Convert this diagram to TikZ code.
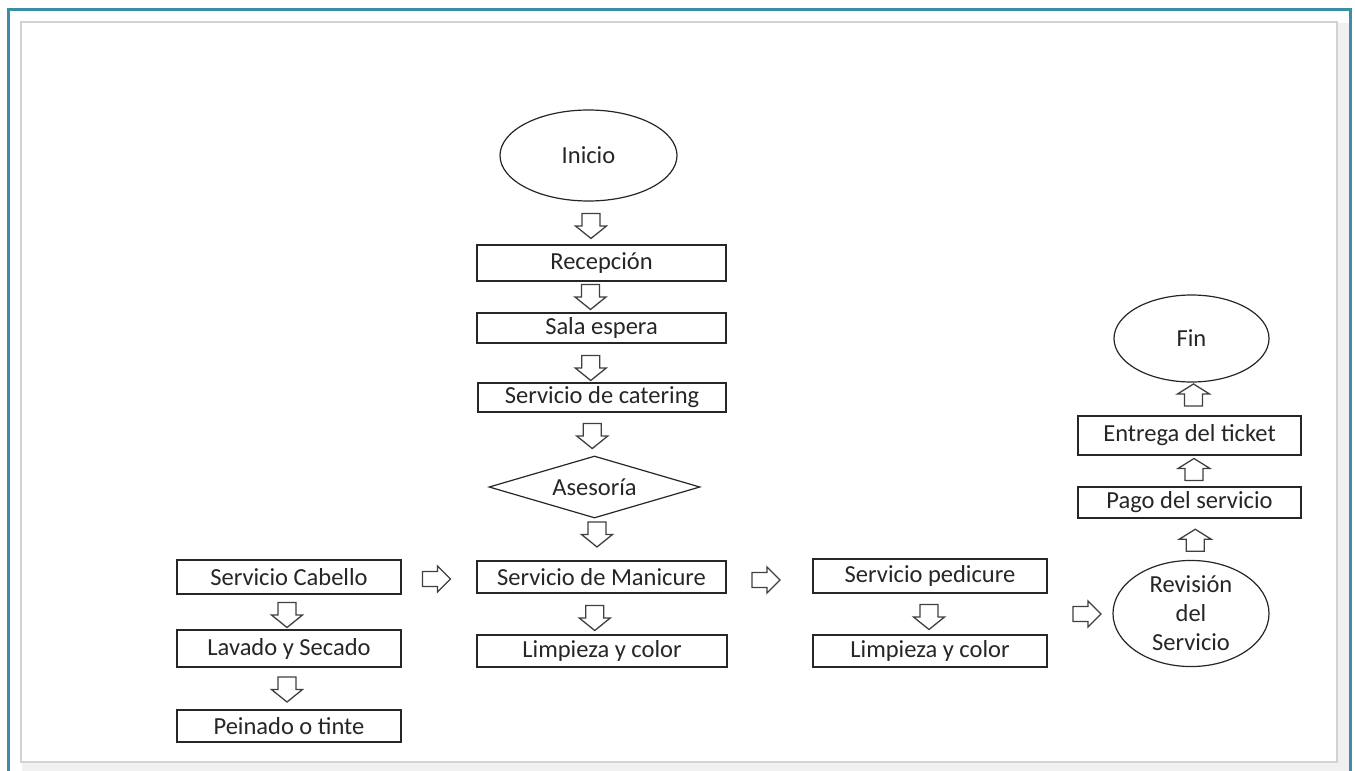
\documentclass[tikz,border=0pt]{standalone}
\usepackage{fontspec}
\setmainfont{Carlito}
\usetikzlibrary{shapes.geometric,calc}
\definecolor{frameteal}{HTML}{3A8FA5}
\definecolor{innergray}{HTML}{D2D2D2}
\definecolor{bggray}{HTML}{F0F0F0}
\definecolor{ink}{HTML}{262626}
\definecolor{arrink}{HTML}{404040}
\tikzset{
  box/.style={draw=ink, line width=1.3pt, rectangle, inner sep=0pt, text=ink,
    font=\fontsize{24.5}{29}\selectfont},
  oval/.style={draw=ink, line width=1.2pt, ellipse, inner sep=0pt, text=ink, align=center,
    font=\fontsize{24.5}{29}\selectfont},
  rhomb/.style={draw=ink, line width=1.2pt, diamond, aspect=3.4, inner sep=0pt, text=ink,
    font=\fontsize{24.5}{29}\selectfont},
  arrline/.style={draw=arrink, line width=1.3pt, fill=white, line join=miter},
  pics/darr/.style={code={\draw[arrline] (-9,-12.5) -- (9,-12.5) -- (9,0) -- (15.5,0) -- (0,12.5) -- (-15.5,0) -- (-9,0) -- cycle;}},
  pics/rarr/.style={code={\draw[arrline] (-14,-7.5) -- (1,-7.5) -- (1,-13) -- (14,0) -- (1,13) -- (1,7.5) -- (-14,7.5) -- cycle;}},
  pics/uarr/.style={code={\draw[arrline] (-9,11) -- (9,11) -- (9,-1) -- (16,-1) -- (0,-11) -- (-16,-1) -- (-9,-1) -- cycle;}},
}
\begin{document}
\begin{tikzpicture}[x=1pt,y=-1pt]
\useasboundingbox (0,0) rectangle (1355,771);
% frame
\fill[white] (0,0) rectangle (1355,771);
\fill[bggray] (22,23) rectangle (1350,771);
\fill[white] (21,22) rectangle (1337,762);
\draw[innergray, line width=1.5pt] (21,22) rectangle (1337,762);
\draw[frameteal, line width=2.2pt] (8.5,775) -- (8.5,9.5) -- (1350.5,9.5) -- (1350.5,775);

% main column
\node[oval, minimum width=177, minimum height=91] (inicio) at (588.5,155.5) {Inicio};
\node[box, minimum width=249, minimum height=36] (recep) at (601.5,263) {Recepción};
\node[box, minimum width=249, minimum height=30] (sala) at (601.5,328) {Sala espera};
\node[box, minimum width=248, minimum height=29] (cater) at (602,397.5) {Servicio de catering};
\node[rhomb, minimum width=211, minimum height=62] (ases) at (594.5,487) {Asesoría};
\node[box, minimum width=249, minimum height=32] (mani) at (601.5,577) {Servicio de Manicure};
\node[box, minimum width=250, minimum height=32] (limp1) at (602,651) {Limpieza y color};

% left column
\node[box, minimum width=224, minimum height=34] (cab) at (289,577) {Servicio Cabello};
\node[box, minimum width=224, minimum height=37] (lav) at (289,648.5) {Lavado y Secado};
\node[box, minimum width=224, minimum height=32] (pein) at (289,726) {Peinado o tinte};

% pedicure column
\node[box, minimum width=234, minimum height=34] (pedi) at (930,576) {Servicio pedicure};
\node[box, minimum width=234, minimum height=32] (limp2) at (930,651) {Limpieza y color};

% right column
\node[oval, minimum width=156, minimum height=97] (rev) at (1191,613.5) {Revisión\\del\\Servicio};
\node[box, minimum width=223, minimum height=31] (pago) at (1189.5,502.5) {Pago del servicio};
\node[box, minimum width=223, minimum height=39] (entrega) at (1189.5,435.5) {Entrega del ticket};
\node[oval, minimum width=155, minimum height=87] (fin) at (1191.5,338.5) {Fin};

% block arrows between nodes
\pic (a1) at ($(inicio.south)!0.5!(recep.north) + (-4,3)$) {darr};
\pic (a2) at ($(recep.south)!0.5!(sala.north) + (-11,0)$) {darr};
\pic (a3) at ($(sala.south)!0.5!(cater.north) + (-11,5)$) {darr};
\pic (a4) at ($(cater.south)!0.5!(ases.north) + (-6,2)$) {darr};
\pic (a5) at ($(ases.south)!0.5!(mani.north) + (-1,-5)$) {darr};
\pic (a6) at ($(mani.south)!0.5!(limp1.north) + (-7,4)$) {darr};

\pic (b1) at ($(cab.south)!0.5!(lav.north) + (-2,3)$) {darr};
\pic (b2) at ($(lav.south)!0.5!(pein.north) + (-2,1)$) {darr};

\pic (c1) at ($(cab.east)!0.5!(mani.west) + (-2.5,2)$) {rarr};
\pic (c2) at ($(mani.east)!0.5!(pedi.west) + (-3.5,3.5)$) {rarr};
\pic (c3) at ($(limp2.east |- rev.west)!0.5!(rev.west) + (7,0.5)$) {rarr};

\pic (d1) at ($(pedi.south)!0.5!(limp2.north) + (-1,3)$) {darr};

\pic (e1) at ($(rev.north)!0.5!(pago.south) + (5,1)$) {uarr};
\pic (e2) at ($(pago.north)!0.5!(entrega.south) + (4.5,-1.5)$) {uarr};
\pic (e3) at ($(entrega.north)!0.5!(fin.south) + (3,-4)$) {uarr};
\end{tikzpicture}
\end{document}
